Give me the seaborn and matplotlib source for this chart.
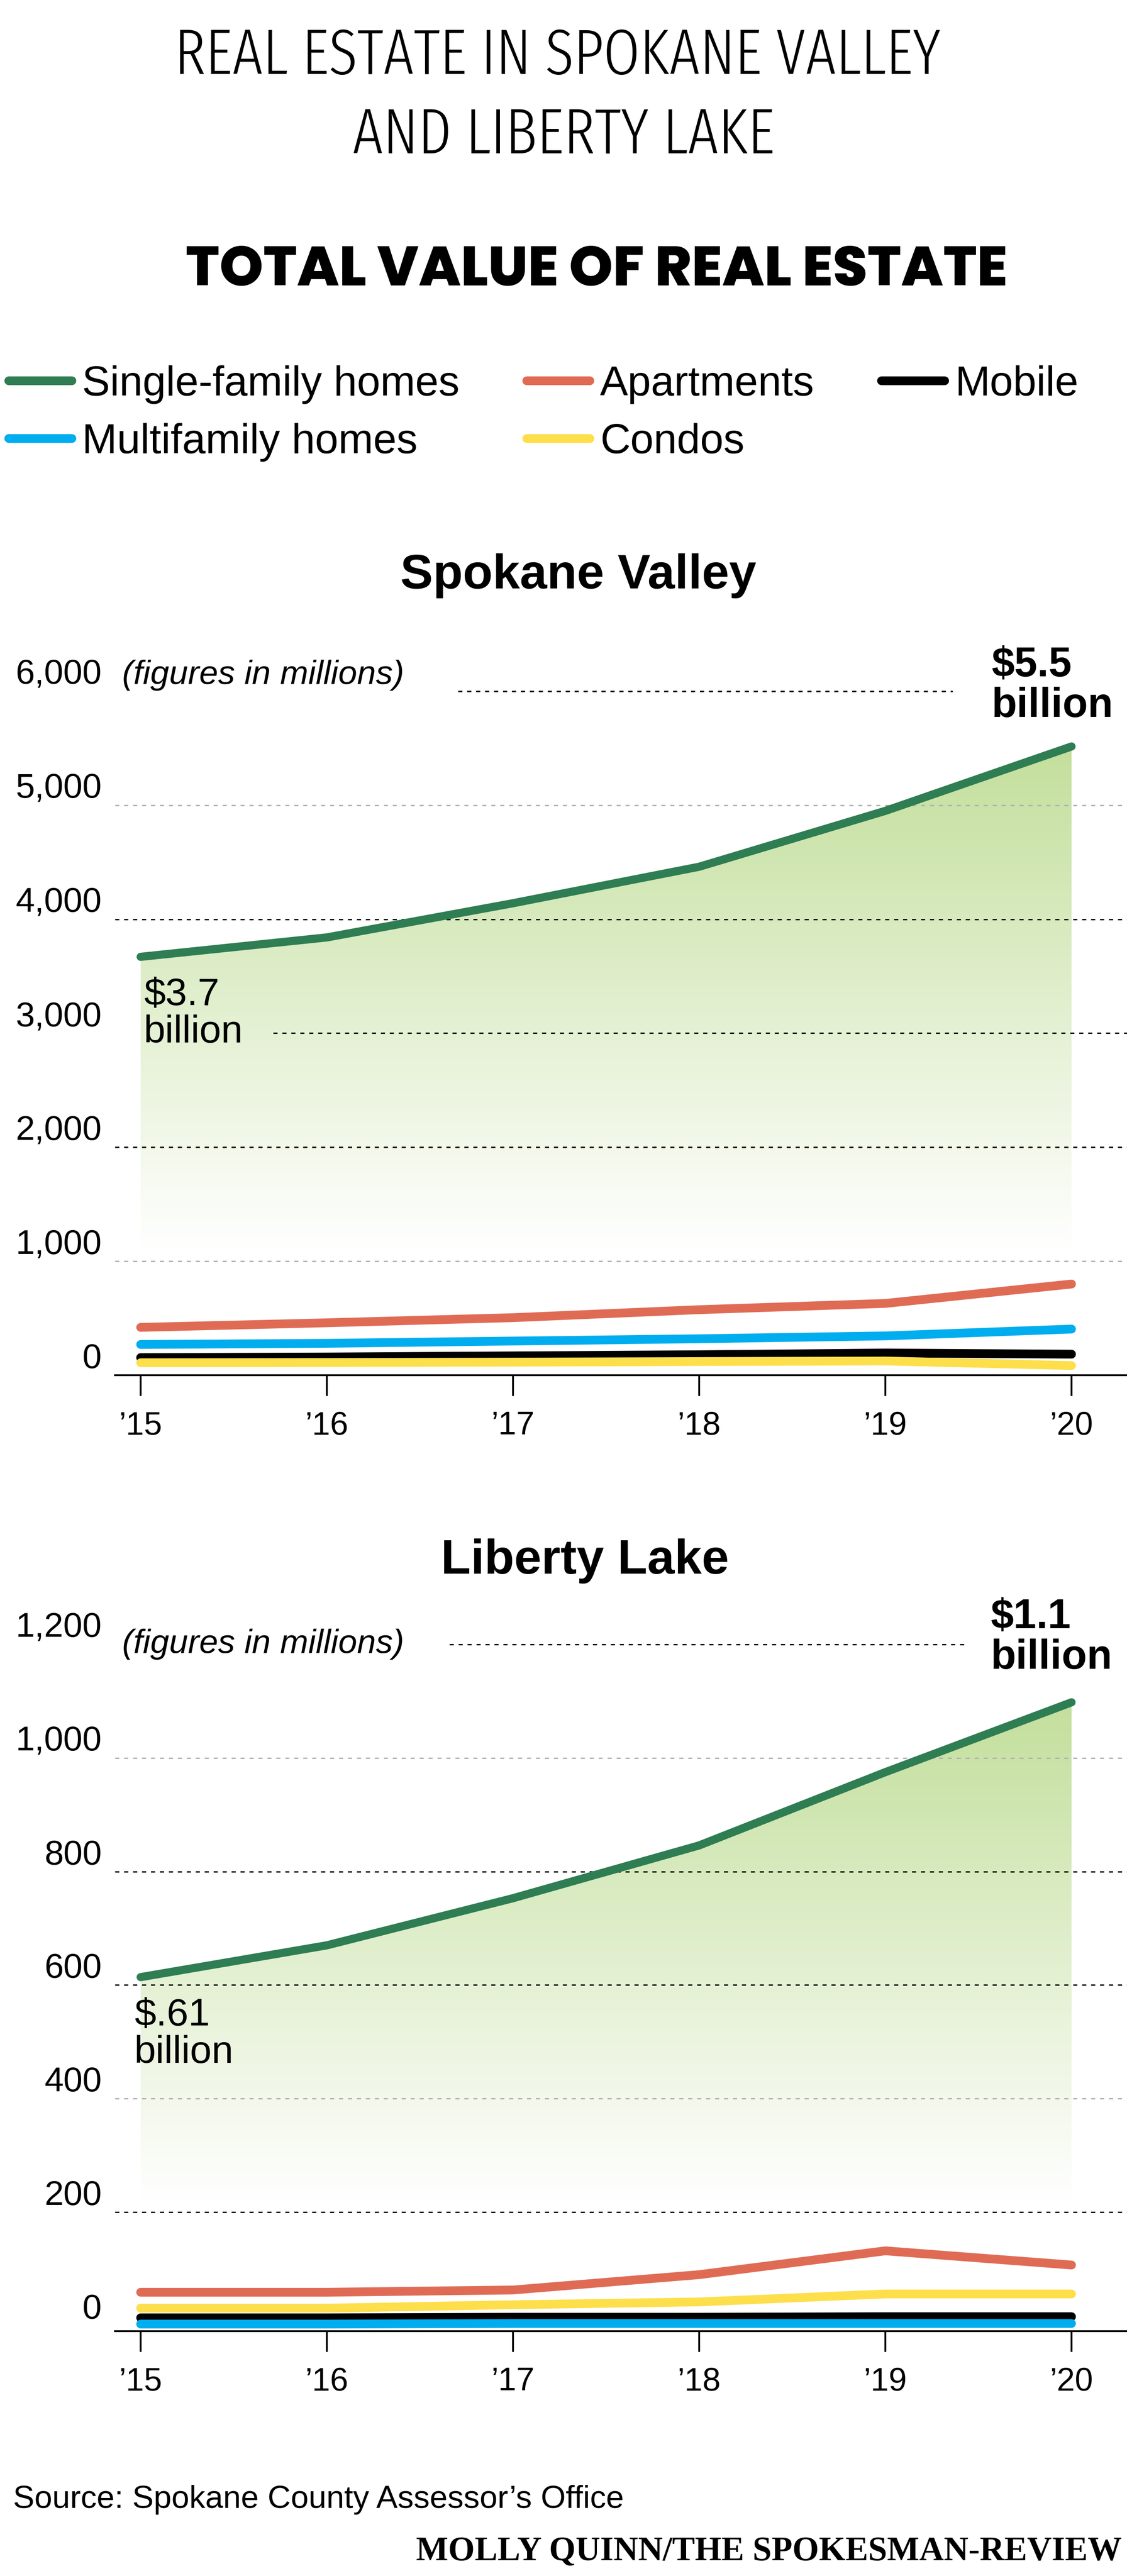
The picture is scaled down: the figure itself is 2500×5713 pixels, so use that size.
import numpy as np
import pandas as pd
import matplotlib
matplotlib.use("Agg")
import matplotlib.pyplot as plt
import matplotlib.font_manager as fm
from matplotlib.colors import LinearSegmentedColormap
from matplotlib.lines import Line2D
from matplotlib.patches import Polygon
import seaborn as sns

# data (values in millions of dollars)
years = [2015, 2016, 2017, 2018, 2019, 2020]
year_labels = ["\u201915", "\u201916", "\u201917", "\u201918", "\u201919", "\u201920"]

sv_single = [3670, 3840, 4140, 4460, 4950, 5515]
sv_apartments = [420, 460, 505, 575, 630, 800]
sv_multi = [270, 280, 300, 320, 345, 405]
sv_mobile = [155, 160, 170, 180, 195, 185]
sv_condos = [110, 112, 115, 120, 125, 85]

ll_single = [614, 670, 753, 846, 975, 1098]
ll_apartments = [59, 59, 63, 90, 132, 107]
ll_multi = [3, 3, 4, 4, 4, 4]
ll_mobile = [14, 14, 15, 15, 16, 16]
ll_condos = [31, 31, 37, 42, 56, 56]

types = ["Single-family homes", "Apartments", "Mobile", "Multifamily homes", "Condos"]
draw_order = ["Mobile", "Apartments", "Multifamily homes", "Condos", "Single-family homes"]
colors = {"Single-family homes": "#2f7d52", "Apartments": "#e06b55", "Mobile": "#000000",
          "Multifamily homes": "#00adee", "Condos": "#fddf4b"}

sv_ticks = [0, 1000, 2000, 3000, 4000, 5000, 6000]
ll_ticks = [0, 200, 400, 600, 800, 1000, 1200]


def long_df(single, apts, mobile, multi, condos):
    series = {"Single-family homes": single, "Apartments": apts, "Mobile": mobile,
              "Multifamily homes": multi, "Condos": condos}
    rows = []
    for k, v in series.items():
        for y, val in zip(years, v):
            rows.append({"year": y, "value": val, "type": k})
    return pd.DataFrame(rows)


sv = long_df(sv_single, sv_apartments, sv_mobile, sv_multi, sv_condos)
ll = long_df(ll_single, ll_apartments, ll_mobile, ll_multi, ll_condos)

sns.set_theme(style="white")
faces = fm.fontManager.ttflist
names = {f.name for f in faces}


def pick(*cands):
    return [c for c in cands if c in names] + ["DejaVu Sans"]


def with_weight(lo, hi, *cands):
    for c in cands:
        if any(f.name == c and lo <= f.weight <= hi for f in faces):
            return [c, "DejaVu Sans"]
    return None


SANS = pick("Liberation Sans")
SERIF = pick("Liberation Serif")
TITLE = (with_weight(250, 350, "Oswald", "Antonio", "Fira Sans Extra Condensed")
         or pick("Antonio", "Barlow Condensed"))
HEAD = with_weight(750, 850, "Montserrat", "Poppins") or pick("Archivo Black")
plt.rcParams["font.family"] = SANS
for k in ["text.color", "axes.labelcolor", "xtick.color", "ytick.color"]:
    plt.rcParams[k] = "black"

W, H = 2500, 5713
fig = plt.figure(figsize=(W / 100, H / 100), dpi=100)
fig.patch.set_facecolor("white")

XMIN, XMAX = 2014.862, 2020.298
GRAY = "#b0b0b0"


def fit(t, target):
    # scale a text so that its drawn width matches the reference width (pixels)
    r = fig.canvas.get_renderer()
    w = t.get_window_extent(r).width
    t.set_fontsize(t.get_fontsize() * target / w)


# title block
t1 = fig.text(1237 / W, 1 - 164 / H, "REAL ESTATE IN SPOKANE VALLEY", family=TITLE,
              fontweight=300, fontsize=100, ha="center", va="baseline")
fit(t1, 1698)
fig.text(1250 / W, 1 - 340 / H, "AND LIBERTY LAKE", family=TITLE, fontweight=300,
         fontsize=t1.get_fontsize(), ha="center", va="baseline")
t3 = fig.text(1323 / W, 1 - 633 / H, "TOTAL VALUE OF REAL ESTATE", family=HEAD,
              fontweight=800, fontsize=72, ha="center", va="baseline")
fit(t3, 1825)

# legend
handles = [Line2D([], [], color=colors[t], lw=14, solid_capstyle="round") for t in types]
leg_order = ["Single-family homes", "Multifamily homes", "Apartments", "Condos", "Mobile"]
fig.legend([handles[types.index(t)] for t in leg_order], leg_order, loc="center left",
           bbox_to_anchor=(19 / W, 1 - 917 / H), ncol=3, frameon=False, fontsize=67,
           handlelength=1.5, handletextpad=0.25, columnspacing=1.6, labelspacing=0.45,
           borderpad=0, borderaxespad=0)


def panel(ax, df, ticks, ylim, floor, grid, notes, fig_note):
    single = df[df["type"] == "Single-family homes"]["value"].to_numpy()
    # gradient under the single-family line
    top = single.max()
    cmap = LinearSegmentedColormap.from_list("g", ["#ffffff", "#c3df9c"])
    grad = np.linspace(0, 1, 256).reshape(-1, 1)
    im = ax.imshow(grad, extent=[years[0], years[-1], floor, top], origin="lower",
                   aspect="auto", cmap=cmap, zorder=1)
    verts = list(zip(years, single)) + [(years[-1], floor), (years[0], floor)]
    clip = Polygon(verts, closed=True, facecolor="none", edgecolor="none",
                   transform=ax.transData)
    ax.add_patch(clip)
    im.set_clip_path(clip)

    # grid lines
    for val, (col, x0, x1) in grid.items():
        ax.hlines(val, x0, x1, colors=col, lw=2.2, linestyles=(0, (3, 3.5)), zorder=2)

    sns.lineplot(data=df, x="year", y="value", hue="type", hue_order=draw_order,
                 palette=colors, linewidth=14, legend=False, ax=ax, zorder=3)
    for line in ax.lines:
        line.set_solid_capstyle("round")
        line.set_solid_joinstyle("round")
        if line.get_color() == colors["Single-family homes"]:
            line.set_linewidth(13)

    ax.set_xlim(XMIN, XMAX)
    ax.set_ylim(*ylim)
    ax.set_xticks(years)
    ax.set_xticklabels(year_labels)
    ax.set_yticks(ticks)
    ax.set_yticklabels([f"{t:,}" for t in ticks], va="bottom")
    ax.tick_params(axis="x", length=33, width=2.9, pad=24, labelsize=52,
                   direction="out", bottom=True, color="black")
    ax.tick_params(axis="y", length=0, pad=21, labelsize=55)
    ax.set_xlabel("")
    ax.set_ylabel("")
    sns.despine(ax=ax, left=True)
    ax.spines["bottom"].set_linewidth(2.9)
    ax.spines["bottom"].set_color("black")
    ax.grid(False)
    ax.set_facecolor("none")

    for text, idx, dx, dy, weight, size in notes:
        ax.annotate(text, xy=(years[idx], single[idx]), xytext=(dx, dy),
                    textcoords="offset pixels", ha="left", va="top",
                    fontsize=size, fontweight=weight, linespacing=1.05,
                    annotation_clip=False, zorder=4)
    ftext, fval, fdy, fva = fig_note
    ax.annotate(ftext, xy=(0, fval), xycoords=("axes fraction", "data"),
                xytext=(16, fdy), textcoords="offset pixels", ha="left", va=fva,
                fontsize=54, style="italic", annotation_clip=False)


# Spokane Valley
fig.text(1283 / W, 1 - 1305 / H, "Spokane Valley", fontweight="bold", fontsize=78,
         ha="center", va="baseline")
ax1 = fig.add_axes([255 / W, (H - 3050) / H, 1 - 255 / W, 1593 / H])
panel(ax1, sv, sv_ticks, (0, 6300), 1100,
      {6000: ("black", 2016.705, 2019.361), 5000: (GRAY, XMIN, XMAX),
       4000: ("black", XMIN, XMAX), 3000: ("black", 2015.712, XMAX),
       2000: ("black", XMIN, XMAX), 1000: (GRAY, XMIN, XMAX)},
      [("$3.7\nbillion", 0, 7, -45, "normal", 62),
       ("$5.5\nbillion", 5, -177, 222, "bold", 66)],
      ("(figures in millions)", 6000, 16, "baseline"))

# Liberty Lake
fig.text(1297 / W, 1 - 3490 / H, "Liberty Lake", fontweight="bold", fontsize=78,
         ha="center", va="baseline")
ax2 = fig.add_axes([255 / W, (H - 5170) / H, 1 - 255 / W, 1649 / H])
panel(ax2, ll, ll_ticks, (-9.5, 1300), 220,
      {1200: ("black", 2016.659, 2019.438), 1000: (GRAY, XMIN, XMAX),
       800: ("black", XMIN, XMAX), 600: ("black", XMIN, XMAX),
       400: (GRAY, XMIN, XMAX), 200: ("black", XMIN, XMAX)},
      [("$.61\nbillion", 0, -14, -45, "normal", 62),
       ("$1.1\nbillion", 5, -179, 231, "bold", 66)],
      ("(figures in millions)", 1200, 0, "center"))

# footer
t4 = fig.text(29 / W, 1 - 5562 / H, "Source: Spokane County Assessor\u2019s Office",
              fontsize=53, ha="left", va="baseline")
fit(t4, 1355)
t5 = fig.text(2488 / W, 1 - 5678 / H, "MOLLY QUINN/THE SPOKESMAN-REVIEW", family=SERIF,
              fontweight="bold", fontsize=54, ha="right", va="baseline")
fit(t5, 1566)

fig.savefig("out.png", dpi=100, facecolor="white")
